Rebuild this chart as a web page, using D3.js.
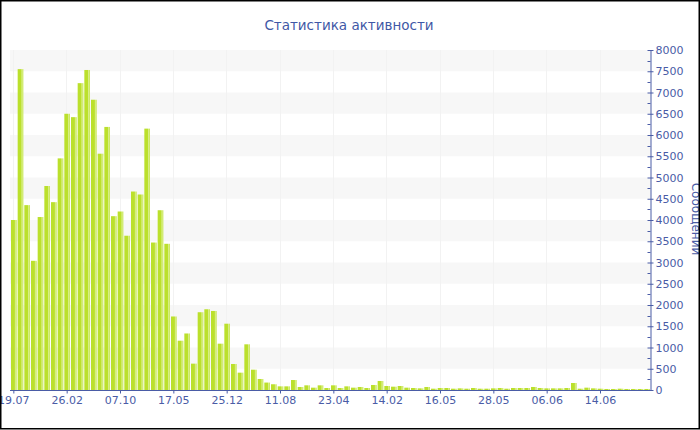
<!DOCTYPE html>
<html><head><meta charset="utf-8">
<script src="https://cdn.jsdelivr.net/npm/d3@7"></script>
<style>html,body{margin:0;padding:0;background:#fff;} svg{display:block;}</style>
</head><body>
<script>
const title = "Статистика активности";
const yTitle = "Сообщений";
const values = [4000,7550,4350,3040,4070,4800,4420,5450,6500,6420,7220,7530,6830,5560,6190,4090,
4200,3630,4670,4600,6150,3470,4230,3440,1730,1160,1330,620,1830,1900,1860,1090,
1560,612,408,1075,478,259,175,135,86,86,235,71,110,55,110,47,
110,47,86,55,71,47,118,212,94,78,94,55,47,39,71,31,
47,47,31,39,31,47,31,31,39,47,31,47,47,47,71,47,
39,39,39,47,165,31,55,39,31,24,24,31,24,24,24,24];
const tickLabels = ["19.07","26.02","07.10","17.05","25.12","11.08","23.04","14.02","16.05","28.05","06.06","14.06"];
const tickEvery = 8;
const yTicks = d3.range(0, 8001, 500);

const W = 700, H = 430;
const textColor = "#4a5ca6";
const svg = d3.select("body").append("svg").attr("width", W).attr("height", H);

const x = d3.scaleBand().domain(d3.range(values.length)).range([10.5, 650.5]).paddingInner(0.15).paddingOuter(0.075);
const y = d3.scaleLinear().domain([0, 8000]).range([390, 50]);

const defs = svg.append("defs");
const g = defs.append("linearGradient").attr("id","barg").attr("x1","0").attr("x2","1").attr("y1","0").attr("y2","0");
[[0,"#bbe02c"],[0.6,"#bbe02c"],[0.72,"#d8ef86"],[0.86,"#d2ec74"],[1,"#c3e444"]].forEach(s=>g.append("stop").attr("offset",s[0]).attr("stop-color",s[1]));

// bands
svg.append("g").selectAll("rect").data(yTicks.slice(0,-1).filter((d,i)=>i%2===1))
  .join("rect").attr("x", 10).attr("width", 641)
  .attr("y", d => y(d+500)).attr("height", d => y(d)-y(d+500)).attr("fill", "#f7f7f7");

// vertical grid
const tickIdx = tickLabels.map((d,i)=>i*tickEvery);
svg.append("g").selectAll("line").data(tickIdx).join("line")
  .attr("x1", d => Math.round(x(d)+x.bandwidth()/2)-0.5).attr("x2", d => Math.round(x(d)+x.bandwidth()/2)-0.5)
  .attr("y1", 50).attr("y2", 390).attr("stroke", "#f2f2f2").attr("stroke-width",1);

// bars
svg.append("g").selectAll("rect").data(values).join("rect")
  .attr("x", (d,i)=>x(i)).attr("width", x.bandwidth())
  .attr("y", d=>y(d)).attr("height", d=>390-y(d)).attr("fill","url(#barg)");

// x axis
const xAxis = d3.axisBottom(x).tickValues(tickIdx).tickFormat(d => tickLabels[d/tickEvery]).tickSize(3).tickPadding(3).tickSizeOuter(0);
const xg = svg.append("g").attr("transform","translate(0,390.5)").call(xAxis);
xg.select(".domain").attr("d","M10,0H651").attr("stroke",textColor);
xg.selectAll(".tick line").attr("stroke",textColor);
xg.selectAll("text").attr("fill",textColor).style("font-family","DejaVu Sans").style("font-size","11px");

// y axis (right)
const yAxis = d3.axisRight(y).tickValues(yTicks).tickFormat(d3.format("d")).tickSize(3).tickPadding(2).tickSizeOuter(0);
const yg = svg.append("g").attr("transform","translate(650.5,0)").call(yAxis);
yg.select(".domain").attr("stroke",textColor);
yg.selectAll(".tick line").attr("stroke",textColor).attr("x1",-3);
yg.selectAll("text").attr("fill",textColor).style("font-family","DejaVu Sans").style("font-size","11px");
yg.append("g").selectAll("line").data(d3.range(250, 8000, 500)).join("line")
  .attr("x1",-3).attr("x2",0).attr("y1",d=>Math.round(y(d))+0.5).attr("y2",d=>Math.round(y(d))+0.5).attr("stroke",textColor);

// y title
svg.append("text").attr("transform","translate(692,219) rotate(90)").attr("text-anchor","middle")
  .attr("fill",textColor).style("font-family","DejaVu Sans").style("font-size","12px").text(yTitle);

// title
svg.append("text").attr("x",349).attr("y",30).attr("text-anchor","middle")
  .attr("fill","#3f58a6").style("font-family","DejaVu Sans").style("font-size","13.5px").text(title);

// border
svg.append("rect").attr("x",0.75).attr("y",0.75).attr("width",W-1.5).attr("height",H-2).attr("fill","none").attr("stroke","#000").attr("stroke-width",1.5);
</script>
</body></html>
